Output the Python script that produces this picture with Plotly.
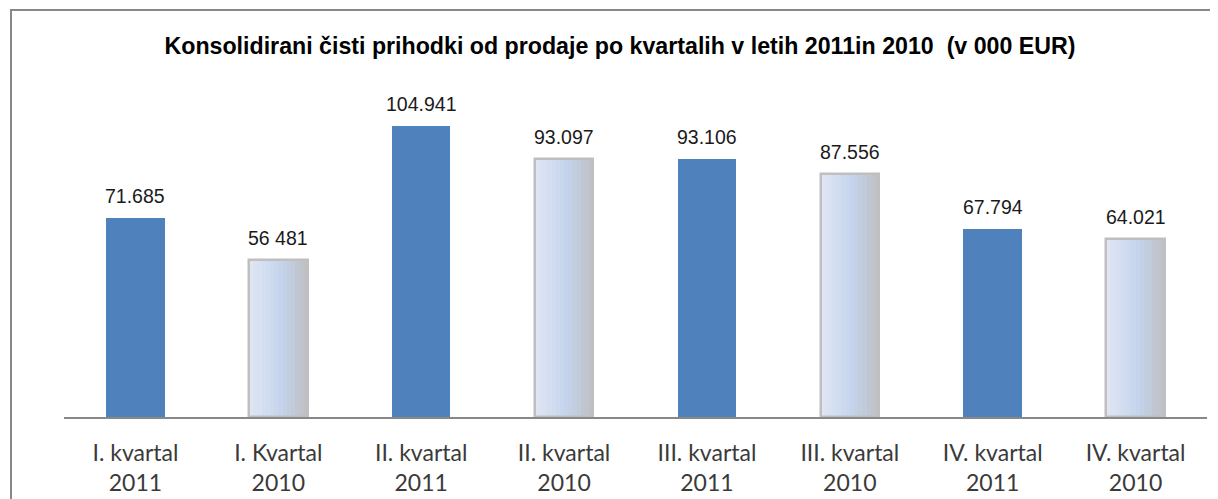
import plotly.graph_objects as go

categories = ["I. kvartal<br>2011", "I. Kvartal<br>2010", "II. kvartal<br>2011", "II. kvartal<br>2010",
              "III. kvartal<br>2011", "III. kvartal<br>2010", "IV. kvartal<br>2011", "IV. kvartal<br>2010"]
values = [71685, 56481, 104941, 93097, 93106, 87556, 67794, 64021]
value_labels = ["71.685", "56 481", "104.941", "93.097", "93.106", "87.556", "67.794", "64.021"]
years = ["2011", "2010", "2011", "2010", "2011", "2010", "2011", "2010"]
title_text = "Konsolidirani čisti prihodki od prodaje po kvartalih v letih 2011in 2010  (v 000 EUR)"

BAR_W = 0.41
xs = list(range(len(categories)))
x11 = [x for x, y in zip(xs, years) if y == "2011"]
v11 = [v for v, y in zip(values, years) if y == "2011"]
x10 = [x for x, y in zip(xs, years) if y == "2010"]
v10 = [v for v, y in zip(values, years) if y == "2010"]

# page body has an 8px default margin; figure is sized to fit the window
W, H = 1210, 491
OFF = 8

fig = go.Figure()
fig.add_trace(go.Bar(x=x11, y=v11, width=BAR_W, marker=dict(color="#4f81bd", line=dict(width=0)),
                     name="2011", hoverinfo="y"))

def lerp(c1, c2, t):
    return tuple(round(a + (b - a) * t) for a, b in zip(c1, c2))

stops = [(0.0, (224, 231, 244)), (0.55, (196, 212, 236)), (1.0, (190, 191, 195))]
N = 14
for i in range(N):
    t = (i + 0.5) / N
    for (p0, c0), (p1, c1) in zip(stops[:-1], stops[1:]):
        if p0 <= t <= p1:
            c = lerp(c0, c1, (t - p0) / (p1 - p0))
            break
    sw = BAR_W / N
    fig.add_trace(go.Bar(x=x10, y=v10, width=sw * 1.08, offset=-BAR_W / 2 + i * sw,
                         marker=dict(color="rgb(%d,%d,%d)" % c, line=dict(width=0)),
                         showlegend=False, hoverinfo="skip"))
fig.add_trace(go.Bar(x=x10, y=v10, width=BAR_W, marker=dict(color="rgba(0,0,0,0)",
                     line=dict(color="#bfbfbf", width=2.5)), name="2010", hoverinfo="y"))

for x, v, t in zip(xs, values, value_labels):
    fig.add_annotation(x=x, y=v, text=t, showarrow=False, yanchor="bottom", yshift=9,
                       font=dict(family="Liberation Sans, Arial", size=19.5, color="#1a1a1a"))

# plot area in page px: x 64..1207, baseline y 417, top 84
L = 64 - OFF
R = W - (1207 - OFF)
T = 84 - OFF
B = H - (417 - OFF)
pw = W - L - R
ph = H - T - B
fig.add_shape(type="rect", xref="paper", yref="paper",
              x0=(11 - OFF - L) / pw, x1=(W + 10 - L) / pw,
              y0=-(B + 20) / ph, y1=(H - B - (10 - OFF)) / ph,
              line=dict(color="#888888", width=2), fillcolor="rgba(0,0,0,0)", layer="below")

fig.update_layout(
    width=W, height=H,
    margin=dict(l=L, r=R, t=T, b=B, autoexpand=False),
    barmode="overlay",
    bargap=0,
    showlegend=False,
    plot_bgcolor="white", paper_bgcolor="white",
    title=dict(text="<b>" + title_text + "</b>", x=(620 - OFF) / W, xanchor="center",
               y=1 - (46 - OFF) / H, yanchor="middle",
               font=dict(family="Liberation Sans, Arial", size=23.2, color="#000000")),
    xaxis=dict(tickmode="array", tickvals=xs, ticktext=categories, range=[-0.5, 7.5],
               showline=True, linecolor="#888888", linewidth=1.5, ticks="", showgrid=False,
               automargin=False,
               tickfont=dict(family="Lato", size=23, color="#3a3a3a"), ticklabelstandoff=15),
    yaxis=dict(range=[0, 120000], visible=False, showgrid=False, zeroline=False),
)

fig.write_html("out.html")
